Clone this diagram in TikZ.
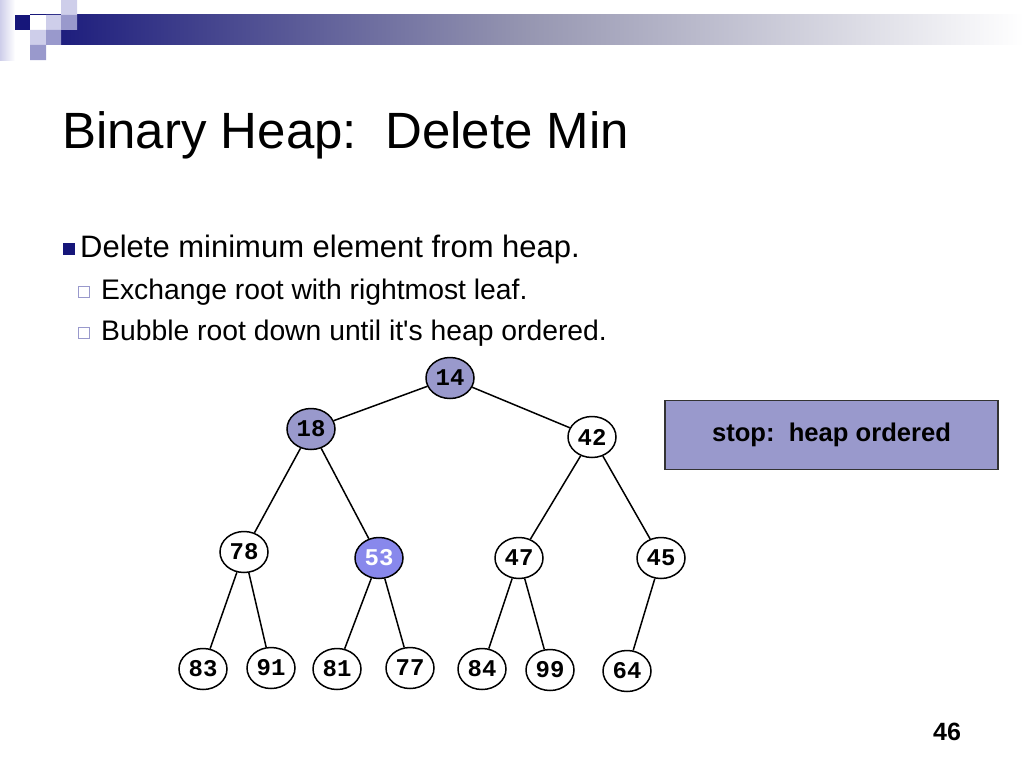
\documentclass[tikz,border=0pt]{standalone}
\usepackage{fontspec}
\setmainfont{Liberation Sans}
\newfontfamily\keyfont{Liberation Mono}
\usetikzlibrary{shapes.geometric,positioning}
\definecolor{navy}{RGB}{22,22,122}
\definecolor{lav}{RGB}{153,153,204}
\definecolor{palelav}{RGB}{206,206,234}
\definecolor{hot}{RGB}{136,136,236}
\tikzset{
    key/.style={ellipse, draw, line width=1.5pt, fill=white,
        minimum width=48pt, minimum height=41pt, inner sep=0pt,
        font=\keyfont\bfseries\fontsize{24}{24}\selectfont},
    visited/.style={key, fill=lav},
    moved/.style={key, fill=hot, text=white}
}

\begin{document}
\begin{tikzpicture}[x=1pt, y=-1pt]
                        \useasboundingbox (0,0) rectangle (1024,768);
                        % header band
                        \shade[left color=palelav, right color=white] (0,0) rectangle (15,60);
                        \shade[left color=navy, right color=white, middle color=navy!45!gray!60!white] (30,15) rectangle (1024,45);
                        \fill[navy] (15,15) rectangle (30,30);
                        \fill[white] (30,15) rectangle (46,30);
                        \fill[palelav] (46,15) rectangle (61,30) (61,0) rectangle (77,15) (30,30) rectangle (46,45);
                        \fill[lav] (61,15) rectangle (77,30) (46,30) rectangle (61,45) (30,45) rectangle (46,60);
                        % text
                        \node[anchor=base west, inner sep=0pt, font=\fontsize{51}{51}\selectfont] (title) at (62,148) {Binary Heap:\ \ Delete Min};
                        \fill[navy] (63,243) rectangle (75,255);
                        \node[anchor=base west, inner sep=0pt, font=\fontsize{31}{31}\selectfont] (item) at (80,257) {Delete minimum element from heap.};
                        \draw[lav, line width=0.8pt] (78,286) rectangle (89,297) (78,327) rectangle (89,338);
                        \node[anchor=base west, inner sep=0pt, font=\fontsize{28.3}{28.3}\selectfont] (suba) at (101,299) {Exchange root with rightmost leaf.};
                        \node[anchor=base west, inner sep=0pt, font=\fontsize{28.3}{28.3}\selectfont] (subb) at (101,340) {Bubble root down until it\textquotesingle s heap ordered.};
                        % heap
                        \node[visited] (t) at (450,378) {14};
                        \node[visited] (tl) at (311,429) {18};
                        \node[key] (tr) at (592,437) {42};
                        \node[key] (tll) at (244,552) {78};
                        \node[moved] (tlr) at (379,558) {53};
                        \node[key] (trl) at (519,558) {47};
                        \node[key] (trr) at (661,558) {45};
                        \node[key] (tlll) at (203,669) {83};
                        \node[key] (tllr) at (271,668) {91};
                        \node[key] (tlrl) at (337,669) {81};
                        \node[key] (tlrr) at (410,668) {77};
                        \node[key] (trll) at (482,669) {84};
                        \node[key] (trlr) at (550,670) {99};
                        \node[key] (trrl) at (627,671) {64};
                        \draw[line width=1.5pt]
                        (t) -- (tl) (t) -- (tr)
                        (tl) -- (tll) (tl) -- (tlr)
                        (tr) -- (trl) (tr) -- (trr)
                        (tll) -- (tlll) (tll) -- (tllr)
                        (tlr) -- (tlrl) (tlr) -- (tlrr)
                        (trl) -- (trll) (trl) -- (trlr)
                        (trr) -- (trrl);
                        \node[draw=black!80, fill=lav, line width=1.5pt, minimum width=333pt, minimum height=69pt,
                            font=\bfseries\fontsize{25.6}{25.6}\selectfont] (stop) at (831.5,435) {stop:\ \ heap ordered};
                        \node[font=\bfseries\fontsize{25}{25}\selectfont] (page) at (947,732) {46};
                    \end{tikzpicture}
\end{document}
